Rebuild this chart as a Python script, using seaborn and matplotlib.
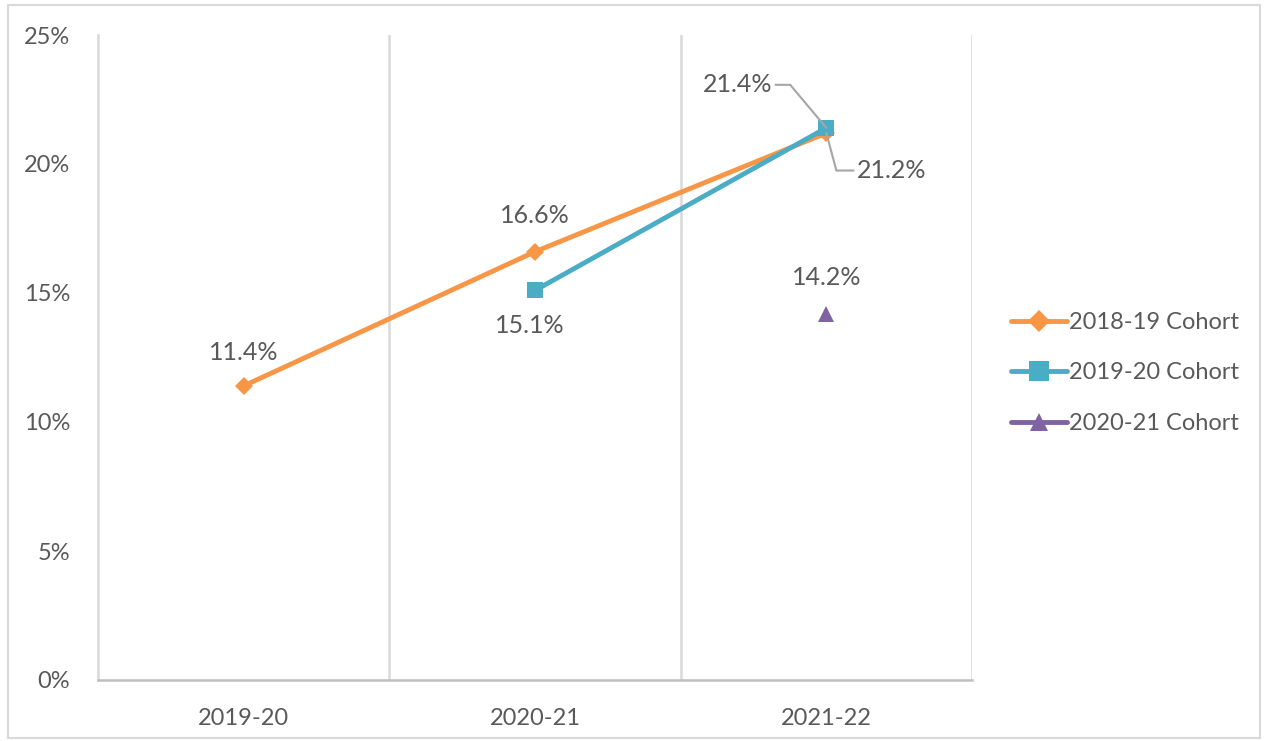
import numpy as np
import pandas as pd
import matplotlib
matplotlib.use("Agg")
import matplotlib.pyplot as plt
from matplotlib.patches import Rectangle
from matplotlib.ticker import PercentFormatter
import seaborn as sns

years = ["2019-20", "2020-21", "2021-22"]
cohorts = ["2018-19 Cohort", "2019-20 Cohort", "2020-21 Cohort"]
cohort_1819 = [0.114, 0.166, 0.212]
cohort_1920 = [np.nan, 0.151, 0.214]
cohort_2021 = [np.nan, np.nan, 0.142]

colors = ["#F79646", "#4BACC6", "#8064A2"]
markers = ["D", "s", "^"]
msizes = [9, 12, 11]

sns.set_theme(style="white")
plt.rcParams["font.family"] = ["Lato", "DejaVu Sans"]
text_col = "#595959"

fig = plt.figure(figsize=(12.68, 7.41), dpi=100)
ax = fig.add_axes([98 / 1268, 61 / 741, 874 / 1268, 645 / 741])

df = pd.DataFrame({"year": years, cohorts[0]: cohort_1819,
                   cohorts[1]: cohort_1920, cohorts[2]: cohort_2021})
df["x"] = range(len(years))

for name, c, m, ms in zip(cohorts, colors, markers, msizes):
    sns.lineplot(data=df.dropna(subset=[name]), x="x", y=name, ax=ax,
                 color=c, marker=m, markersize=ms, markeredgewidth=0,
                 linewidth=3.5, label=name, zorder=3)

ax.set_xlim(-0.5, 2.5)
ax.set_ylim(0, 0.25)
ax.set_yticks(np.arange(0, 0.26, 0.05))
ax.yaxis.set_major_formatter(PercentFormatter(1.0, decimals=0))
ax.set_xticks(range(len(years)))
ax.set_xticklabels(years)
ax.set_xlabel("")
ax.set_ylabel("")
ax.tick_params(axis="both", length=0, labelsize=17, colors=text_col)
ax.tick_params(axis="x", pad=20)
ax.tick_params(axis="y", pad=20)

for b in [0.5, 1.5, 2.5]:
    ax.axvline(b, color="#D9D9D9", linewidth=1.8, zorder=1)
ax.spines["top"].set_visible(False)
ax.spines["right"].set_visible(False)
ax.spines["left"].set_color("#D9D9D9")
ax.spines["left"].set_linewidth(1.8)
ax.spines["bottom"].set_color("#BFBFBF")
ax.spines["bottom"].set_linewidth(1.8)

lab_kw = dict(fontsize=18, color=text_col, ha="center", va="center",
              textcoords="offset points")
ax.annotate("11.4%", (0, cohort_1819[0]), xytext=(0, 24), **lab_kw)
ax.annotate("16.6%", (1, cohort_1819[1]), xytext=(0, 26), **lab_kw)
ax.annotate("15.1%", (1, cohort_1920[1]), xytext=(-4, -25), **lab_kw)
ax.annotate("14.2%", (2, cohort_2021[2]), xytext=(0, 26), **lab_kw)
ax.annotate("21.4%", (2, cohort_1920[2]), xytext=(-64, 31),
            arrowprops=dict(arrowstyle="-", color="#A6A6A6", lw=1.5,
                            connectionstyle="angle,angleA=0,angleB=130,rad=0",
                            shrinkA=0, shrinkB=0), **lab_kw)
ax.annotate("21.2%", (2, cohort_1819[2]), xytext=(47, -27),
            arrowprops=dict(arrowstyle="-", color="#A6A6A6", lw=1.5,
                            connectionstyle="angle,angleA=0,angleB=105,rad=0",
                            shrinkA=0, shrinkB=0), **lab_kw)

leg = ax.legend(loc="center left", bbox_to_anchor=(1.045, 0.476), frameon=False,
                fontsize=17, labelcolor=text_col, handlelength=2.35,
                handletextpad=0.1, labelspacing=1.25, borderpad=0,
                borderaxespad=0, markerscale=1.2)

fig.patches.append(Rectangle((8 / 1268, 3 / 741), 1252 / 1268, 733 / 741,
                             transform=fig.transFigure, fill=False,
                             edgecolor="#D9D9D9", linewidth=1.5))

fig.savefig("out.png", dpi=100)
